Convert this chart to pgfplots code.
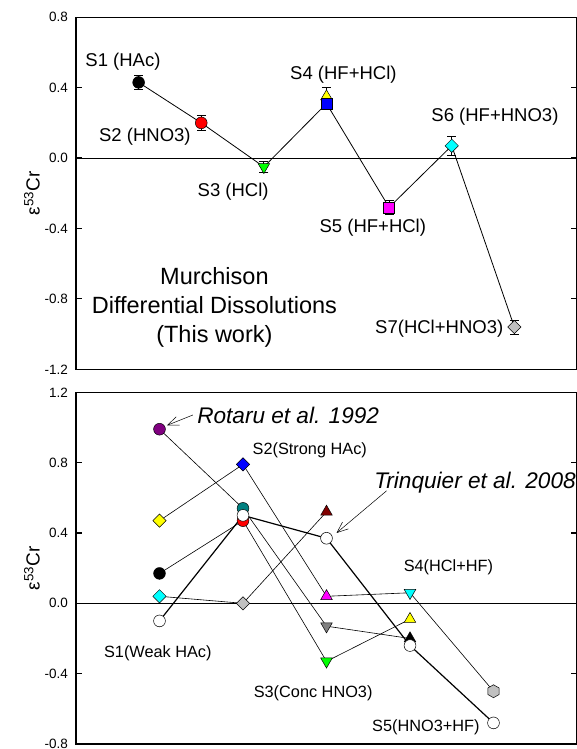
\documentclass[border=0pt]{standalone}
\usepackage{pgfplots}
\pgfplotsset{compat=1.18}
\usepackage{fontspec}
\setmainfont{Liberation Sans}
\usetikzlibrary{arrows.meta}

\definecolor{cpurple}{RGB}{128,0,128}
\definecolor{cteal}{RGB}{0,128,128}
\definecolor{cdred}{RGB}{128,0,0}
\definecolor{cdgrey}{RGB}{128,128,128}
\definecolor{clgrey}{RGB}{192,192,192}
\definecolor{cgreen}{RGB}{0,255,0}
\definecolor{cyellow}{RGB}{255,255,0}
\definecolor{ccyan}{RGB}{0,255,255}
\definecolor{cmag}{RGB}{255,0,255}
\definecolor{cblue}{RGB}{0,0,255}
\definecolor{cred}{RGB}{255,0,0}

\pgfdeclareplotmark{hexagon*}{%
  \pgfpathmoveto{\pgfqpointpolar{90}{\pgfplotmarksize}}%
  \pgfpathlineto{\pgfqpointpolar{150}{\pgfplotmarksize}}%
  \pgfpathlineto{\pgfqpointpolar{210}{\pgfplotmarksize}}%
  \pgfpathlineto{\pgfqpointpolar{270}{\pgfplotmarksize}}%
  \pgfpathlineto{\pgfqpointpolar{330}{\pgfplotmarksize}}%
  \pgfpathlineto{\pgfqpointpolar{30}{\pgfplotmarksize}}%
  \pgfpathclose
  \pgfusepathqfillstroke}

\pgfplotsset{
  panel/.style={scale only axis, width=501pt, xtick=\empty,
    tick align=inside, ytick pos=both, yticklabel pos=left,
    major tick length=6pt,
    axis line style={line width=1.5pt},
    every tick/.style={black, line width=1.2pt},
    yticklabel style={font=\fontsize{13.5}{15}\selectfont, inner sep=0pt, xshift=-8pt},
    ylabel style={at={(rel axis cs:0,0.5)}, anchor=south, inner sep=0pt, yshift=36pt, font=\fontsize{19}{21}\selectfont},
    clip=false},
  cir/.style={only marks, mark=*, mark size=5.9pt, mark options={draw=black, line width=0.5pt, fill=#1}},
  dia/.style={only marks, mark=square*, mark size=4.7pt, mark options={draw=black, line width=0.5pt, fill=#1, rotate=45}},
  tup/.style={only marks, mark=triangle*, mark size=6.7pt, mark options={draw=black, line width=0.5pt, fill=#1}},
  tdn/.style={only marks, mark=triangle*, mark size=6.7pt, mark options={draw=black, line width=0.5pt, fill=#1, rotate=180}},
  sq/.style={only marks, mark=square*, mark size=5.6pt, mark options={draw=black, line width=0.5pt, fill=#1}},
  hex/.style={only marks, mark=hexagon*, mark size=6.5pt, mark options={draw=black, line width=0.5pt, fill=#1}},
  eb/.style={error bars/y dir=both, error bars/y explicit,
    error bars/error bar style={black, line width=0.8pt},
    error bars/error mark options={black, rotate=90, mark size=4.5pt, line width=0.8pt}},
}

\begin{document}
\begin{tikzpicture}[x=1pt,y=1pt]
% ---------------- top panel ----------------
\begin{axis}[panel, at={(76pt,379.7pt)}, anchor=south west, height=352pt,
  xmin=0, xmax=8, ymin=-1.2, ymax=0.8,
  ytick={-1.2,-0.8,-0.4,0,0.4,0.8}, yticklabels={-1.2,-0.8,-0.4,0.0,0.4,0.8},
  ylabel={ε\textsuperscript{53}Cr}]
\draw[black, line width=0.8pt] (axis cs:0,0) -- (axis cs:8,0);
\addplot[black, line width=0.8pt, mark=none] coordinates {(1,0.43)(2,0.20)(3,-0.05)(4,0.31)(5,-0.28)(6,0.07)(7,-0.96)};
\addplot[black, cir=black, eb] coordinates {(1,0.43) +- (0,0.04)};
\addplot[black, cir=cred, eb] coordinates {(2,0.20) +- (0,0.04)};
\addplot[black, tdn=cgreen, eb] coordinates {(3,-0.05) +- (0,0.03)};
\addplot[black, tup=cyellow, eb] coordinates {(4,0.35) +- (0,0.05)};
\addplot[black, sq=cblue, eb] coordinates {(4,0.31) +- (0,0.02)};
\addplot[black, sq=cmag, eb] coordinates {(5,-0.28) +- (0,0.04)};
\addplot[black, dia=ccyan, eb] coordinates {(6,0.07) +- (0,0.055)};
\addplot[black, dia=clgrey, eb] coordinates {(7,-0.96) +- (0,0.04)};
\begin{scope}[font=\fontsize{18.5}{20}\selectfont]
\node at (axis cs:0.75,0.546) {S1 (HAc)};
\node at (axis cs:1.10,0.12) {S2 (HNO3)};
\node at (axis cs:2.51,-0.193) {S3 (HCl)};
\node at (axis cs:4.27,0.472) {S4 (HF+HCl)};
\node at (axis cs:4.74,-0.397) {S5 (HF+HCl)};
\node at (axis cs:6.69,0.233) {S6 (HF+HNO3)};
\node at (axis cs:5.80,-0.971) {S7(HCl+HNO3)};
\end{scope}
\node[font=\fontsize{23.5}{29}\selectfont, align=center] at (axis cs:2.21,-0.846) {Murchison\\Differential Dissolutions\\(This work)};
\end{axis}
% ---------------- bottom panel ----------------
\begin{axis}[panel, at={(76pt,5pt)}, anchor=south west, height=351.7pt,
  xmin=0, xmax=6, ymin=-0.8, ymax=1.2,
  ytick={-0.8,-0.4,0,0.4,0.8,1.2}, yticklabels={-0.8,-0.4,0.0,0.4,0.8,1.2},
  ylabel={ε\textsuperscript{53}Cr}]
\draw[black, line width=0.8pt] (axis cs:0,0) -- (axis cs:6,0);
% connecting lines
\addplot[black, line width=0.6pt, mark=none] coordinates {(1,0.47)(2,0.79)(3,0.04)(4,0.06)(5,-0.50)};
\addplot[black, line width=0.6pt, mark=none] coordinates {(1,0.17)(2,0.47)(3,-0.33)(4,-0.09)};
\addplot[black, line width=0.6pt, mark=none] coordinates {(1,0.99)(2,0.54)(3,-0.13)(4,-0.20)};
\addplot[black, line width=0.6pt, mark=none] coordinates {(1,0.04)(2,0.00)(3,0.52)};
\addplot[black, line width=1.2pt, mark=none] coordinates {(1,-0.10)(2,0.50)(3,0.37)(4,-0.24)(5,-0.68)};
% markers
\addplot[cir=cpurple] coordinates {(1,0.99)};
\addplot[dia=cyellow] coordinates {(1,0.47)};
\addplot[cir=black] coordinates {(1,0.17)};
\addplot[dia=ccyan] coordinates {(1,0.04)};
\addplot[dia=cblue] coordinates {(2,0.79)};
\addplot[cir=cteal] coordinates {(2,0.54)};
\addplot[cir=cred] coordinates {(2,0.47)};
\addplot[dia=clgrey] coordinates {(2,0.00)};
\addplot[tup=cdred] coordinates {(3,0.52)};
\addplot[tup=cmag] coordinates {(3,0.04)};
\addplot[tdn=cdgrey] coordinates {(3,-0.13)};
\addplot[tdn=cgreen] coordinates {(3,-0.33)};
\addplot[tdn=ccyan] coordinates {(4,0.06)};
\addplot[tup=cyellow] coordinates {(4,-0.09)};
\addplot[tup=black] coordinates {(4,-0.20)};
\addplot[hex=clgrey] coordinates {(5,-0.50)};
\addplot[cir=white] coordinates {(1,-0.10)(2,0.50)(3,0.37)(4,-0.24)(5,-0.68)};
% labels
\begin{scope}[font=\fontsize{16.3}{18}\selectfont]
\node at (axis cs:2.80,0.872) {S2(Strong HAc)};
\node at (axis cs:0.98,-0.283) {S1(Weak HAc)};
\node at (axis cs:2.84,-0.51) {S3(Conc HNO3)};
\node at (axis cs:4.46,0.206) {S4(HCl+HF)};
\node at (axis cs:4.19,-0.707) {S5(HNO3+HF)};
\end{scope}
\node[font=\fontsize{22.6}{24}\itshape\selectfont, anchor=west, inner sep=0pt] at (axis cs:1.45,1.071) {Rotaru et al. 1992};
\node[font=\fontsize{22.6}{24}\itshape\selectfont, anchor=west, inner sep=0pt] at (axis cs:3.57,0.684) {Trinquier et al. 2008};
\draw[-{Straight Barb[length=11pt,width=9pt]}, line width=0.5pt] (axis cs:1.40,1.071) -- (axis cs:1.09,1.012);
\draw[-{Straight Barb[length=11pt,width=9pt]}, line width=0.5pt] (axis cs:3.72,0.64) -- (axis cs:3.12,0.40);
\end{axis}
\pgfresetboundingbox
\useasboundingbox (0,0) rectangle (576pt,749pt);
\end{tikzpicture}
\end{document}
